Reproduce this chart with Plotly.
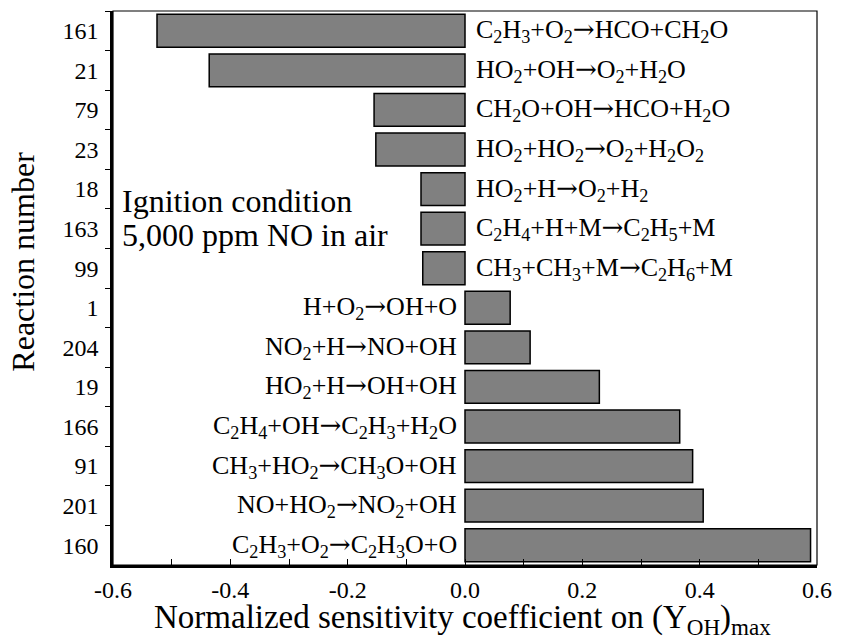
import plotly.graph_objects as go

# Reaction numbers (top to bottom) and their normalized sensitivity coefficients
reaction_numbers = ["161", "21", "79", "23", "18", "163", "99",
                    "1", "204", "19", "166", "91", "201", "160"]
sensitivity = [-0.525, -0.436, -0.155, -0.152, -0.075, -0.075, -0.072,
               0.077, 0.111, 0.229, 0.366, 0.388, 0.406, 0.589]
ARROW = "<span style='font-family:DejaVu Serif'>→</span>"
reactions = [
    "C<sub>2</sub>H<sub>3</sub>+O<sub>2</sub>{a}HCO+CH<sub>2</sub>O",
    "HO<sub>2</sub>+OH{a}O<sub>2</sub>+H<sub>2</sub>O",
    "CH<sub>2</sub>O+OH{a}HCO+H<sub>2</sub>O",
    "HO<sub>2</sub>+HO<sub>2</sub>{a}O<sub>2</sub>+H<sub>2</sub>O<sub>2</sub>",
    "HO<sub>2</sub>+H{a}O<sub>2</sub>+H<sub>2</sub>",
    "C<sub>2</sub>H<sub>4</sub>+H+M{a}C<sub>2</sub>H<sub>5</sub>+M",
    "CH<sub>3</sub>+CH<sub>3</sub>+M{a}C<sub>2</sub>H<sub>6</sub>+M",
    "H+O<sub>2</sub>{a}OH+O",
    "NO<sub>2</sub>+H{a}NO+OH",
    "HO<sub>2</sub>+H{a}OH+OH",
    "C<sub>2</sub>H<sub>4</sub>+OH{a}C<sub>2</sub>H<sub>3</sub>+H<sub>2</sub>O",
    "CH<sub>3</sub>+HO<sub>2</sub>{a}CH<sub>3</sub>O+OH",
    "NO+HO<sub>2</sub>{a}NO<sub>2</sub>+OH",
    "C<sub>2</sub>H<sub>3</sub>+O<sub>2</sub>{a}C<sub>2</sub>H<sub>3</sub>O+O",
]
x_ticks = [-0.6, -0.4, -0.2, 0.0, 0.2, 0.4, 0.6]
x_tick_text = ["-0.6", "-0.4", "-0.2", "0.0", "0.2", "0.4", "0.6"]

FONT = "Liberation Serif, 'Times New Roman', Times, serif"
W, H = 843, 641
L, R, T, B = 113, 21, 11, 76

fig = go.Figure()
fig.add_trace(go.Bar(
    x=sensitivity, y=reaction_numbers, orientation="h",
    width=0.83,
    marker=dict(color="#808080", line=dict(color="black", width=1.5)),
    hoverinfo="x+y",
))

# Reaction equations next to the zero line, opposite side of each bar.
# On a category axis the annotation position is the category index.
annotations = []
for idx, (val, txt) in enumerate(zip(sensitivity, reactions)):
    neg = val < 0
    annotations.append(dict(
        x=0, y=idx, xref="x", yref="y", text=txt.format(a=ARROW),
        showarrow=False,
        xanchor="left" if neg else "right", yanchor="middle",
        xshift=9 if neg else -6,
        font=dict(family=FONT, size=26, color="black"),
    ))

plot_h = H - T - B
plot_w = W - L - R


def py(pix):
    return (H - B - pix) / plot_h


def px(pix):
    return (pix - L) / plot_w


annotations += [
    dict(x=px(120), y=py(201), xref="paper", yref="paper",
         text="Ignition condition", showarrow=False,
         xanchor="left", yanchor="middle",
         font=dict(family=FONT, size=32, color="black")),
    dict(x=px(120), y=py(235), xref="paper", yref="paper",
         text="5,000 ppm NO in air", showarrow=False,
         xanchor="left", yanchor="middle",
         font=dict(family=FONT, size=32, color="black")),
    dict(x=px(465), y=py(619), xref="paper", yref="paper",
         text="Normalized sensitivity coefficient on (Y<sub>OH</sub>)<sub>max</sub>",
         showarrow=False, xanchor="center", yanchor="middle",
         font=dict(family=FONT, size=33, color="black")),
    dict(x=px(22), y=py(262), xref="paper", yref="paper",
         text="Reaction number", textangle=-90,
         showarrow=False, xanchor="center", yanchor="middle",
         font=dict(family=FONT, size=32, color="black")),
]

fig.update_layout(
    width=W, height=H,
    margin=dict(l=L, r=R, t=T, b=B),
    paper_bgcolor="white", plot_bgcolor="white",
    showlegend=False,
    font=dict(family=FONT, color="black"),
    annotations=annotations,
    shapes=[dict(type="rect", xref="paper", yref="paper",
                 x0=0, y0=0, x1=1, y1=1,
                 line=dict(color="black", width=1.2), layer="above")],
    xaxis=dict(
        range=[-0.6, 0.6], tickvals=x_ticks, ticktext=x_tick_text,
        ticks="inside", ticklen=6, tickwidth=1.2, tickcolor="black",
        minor=dict(dtick=0.1, tick0=0, ticks="inside", ticklen=6,
                   tickwidth=1.2, tickcolor="black", showgrid=False),
        showgrid=False, zeroline=False,
        showline=True, linecolor="black", linewidth=2.5,
        ticklabelstandoff=1,
        tickfont=dict(family=FONT, size=24, color="black"),
    ),
    yaxis=dict(
        type="category", autorange="reversed",
        ticks="outside", tickson="boundaries", ticklen=5, tickwidth=1.2,
        tickcolor="black",
        showgrid=False, zeroline=False,
        showline=True, linecolor="black", linewidth=2.5,
        ticklabelstandoff=7,
        tickfont=dict(family=FONT, size=24, color="black"),
    ),
)

fig.write_html("out.html")
